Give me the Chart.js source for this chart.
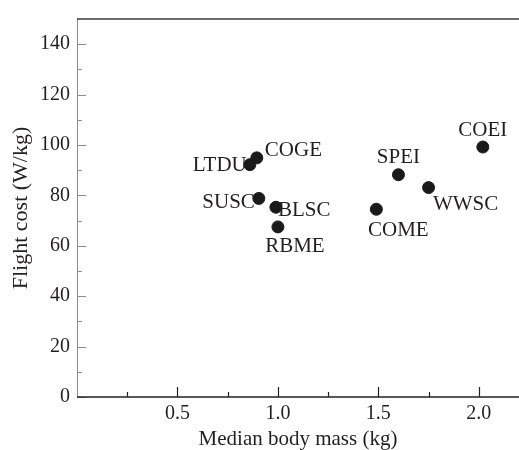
<!DOCTYPE html>
<html>
<head>
<meta charset="utf-8">
<script src="https://cdn.jsdelivr.net/npm/chart.js@4"></script>
<style>
  html, body { margin: 0; padding: 0; background: #ffffff; }
  #wrap { width: 519px; height: 450px; }
</style>
</head>
<body>
<div id="wrap"><canvas id="c" width="519" height="450"></canvas></div>
<script>
// ---- data ----
const species = ["LTDU", "COGE", "SUSC", "BLSC", "RBME", "COME", "SPEI", "WWSC", "COEI"];
const bodyMass = [0.86, 0.895, 0.905, 0.99, 1.0, 1.49, 1.60, 1.75, 2.02];
const flightCost = [92.2, 94.9, 78.8, 75.3, 67.5, 74.5, 88.2, 83.1, 99.2];
const xTickValues = [0.5, 1.0, 1.5, 2.0];
const yTickValues = [0, 20, 40, 60, 80, 100, 120, 140];
const xAxisTitle = "Median body mass (kg)";
const yAxisTitle = "Flight cost (W/kg)";

// ---- label placement (style, not data) ----
const labelPlacement = {
  LTDU: { align: "right",  dx: -3, dy: 1 },
  COGE: { align: "left",   dx: 8,  dy: -7 },
  SUSC: { align: "right",  dx: -4, dy: 4 },
  BLSC: { align: "left",   dx: 2,  dy: 3 },
  RBME: { align: "center", dx: 17, dy: 20 },
  COME: { align: "center", dx: 22, dy: 21 },
  SPEI: { align: "center", dx: 0,  dy: -17 },
  WWSC: { align: "center", dx: 37, dy: 17 },
  COEI: { align: "center", dx: 0,  dy: -17 }
};

const FONT = "'Liberation Serif', 'Times New Roman', serif";
const TEXT = "#231f20";

const axesPlugin = {
  id: "axesPlugin",
  afterDraw(chart) {
    const { ctx, chartArea: a, scales: { x, y } } = chart;
    ctx.save();
    // left axis (gray, thin)
    ctx.strokeStyle = "#8c8c8c";
    ctx.lineWidth = 1;
    ctx.beginPath();
    ctx.moveTo(a.left + 0.5, a.top);
    ctx.lineTo(a.left + 0.5, a.bottom);
    ctx.stroke();
    // y ticks (inward)
    for (let v = 0; v < 150; v += 10) {
      const py = Math.round(y.getPixelForValue(v)) + 0.5;
      const len = (v % 20 === 0) ? 9 : 5;
      ctx.beginPath();
      ctx.moveTo(a.left, py);
      ctx.lineTo(a.left + len, py);
      ctx.stroke();
    }
    // top line
    ctx.strokeStyle = "#3a3a3a";
    ctx.lineWidth = 1.5;
    ctx.beginPath();
    ctx.moveTo(a.left, a.top);
    ctx.lineTo(a.right, a.top);
    ctx.stroke();
    // bottom axis
    ctx.strokeStyle = "#231f20";
    ctx.lineWidth = 1.6;
    ctx.beginPath();
    ctx.moveTo(a.left, a.bottom);
    ctx.lineTo(a.right, a.bottom);
    ctx.stroke();
    // x ticks (inward)
    ctx.lineWidth = 1.2;
    for (let v = 0.25; v <= 2.2; v += 0.25) {
      const px = Math.round(x.getPixelForValue(v)) + 0.5;
      const major = Math.abs(v * 2 - Math.round(v * 2)) < 1e-6;
      const len = major ? 10 : 5;
      ctx.beginPath();
      ctx.moveTo(px, a.bottom);
      ctx.lineTo(px, a.bottom - len);
      ctx.stroke();
    }
    // point labels
    const meta = chart.getDatasetMeta(0);
    ctx.fillStyle = TEXT;
    ctx.font = "21px " + FONT;
    ctx.textBaseline = "middle";
    meta.data.forEach((pt, i) => {
      const name = species[i];
      const p = labelPlacement[name];
      ctx.textAlign = p.align;
      ctx.fillText(name, pt.x + p.dx, pt.y + p.dy);
    });
    ctx.restore();
  }
};

new Chart(document.getElementById("c"), {
  type: "scatter",
  data: {
    datasets: [{
      data: bodyMass.map((m, i) => ({ x: m, y: flightCost[i] })),
      backgroundColor: "#1a1a1a",
      borderColor: "#1a1a1a",
      pointRadius: 6,
      pointHoverRadius: 6,
      clip: false
    }]
  },
  options: {
    responsive: false,
    animation: false,
    layout: { autoPadding: false, padding: { top: 15, right: 0, left: 0, bottom: 0 } },
    plugins: { legend: { display: false }, tooltip: { enabled: false } },
    scales: {
      x: {
        type: "linear",
        min: 0,
        max: 2.2,
        grid: { display: false, drawTicks: false },
        border: { display: false },
        afterBuildTicks: s => { s.ticks = xTickValues.map(v => ({ value: v })); },
        afterFit: s => { s.height = 53; },
        ticks: {
          padding: 5,
          color: TEXT,
          font: { family: FONT, size: 20 },
          maxRotation: 0,
          callback: v => Number(v).toFixed(1)
        },
        title: {
          display: true,
          text: xAxisTitle,
          color: TEXT,
          font: { family: FONT, size: 21, lineHeight: 1 },
          padding: { top: 0, bottom: 0 }
        }
      },
      y: {
        type: "linear",
        min: 0,
        max: 150,
        grid: { display: false, drawTicks: false },
        border: { display: false },
        afterBuildTicks: s => { s.ticks = yTickValues.map(v => ({ value: v })); },
        afterFit: s => { s.width = 77; },
        ticks: {
          padding: 7,
          color: TEXT,
          font: { family: FONT, size: 20 }
        },
        title: {
          display: true,
          text: yAxisTitle,
          color: TEXT,
          font: { family: FONT, size: 22, lineHeight: 1 },
          padding: { top: 10, bottom: 0 }
        }
      }
    }
  },
  plugins: [axesPlugin]
});
</script>
</body>
</html>
